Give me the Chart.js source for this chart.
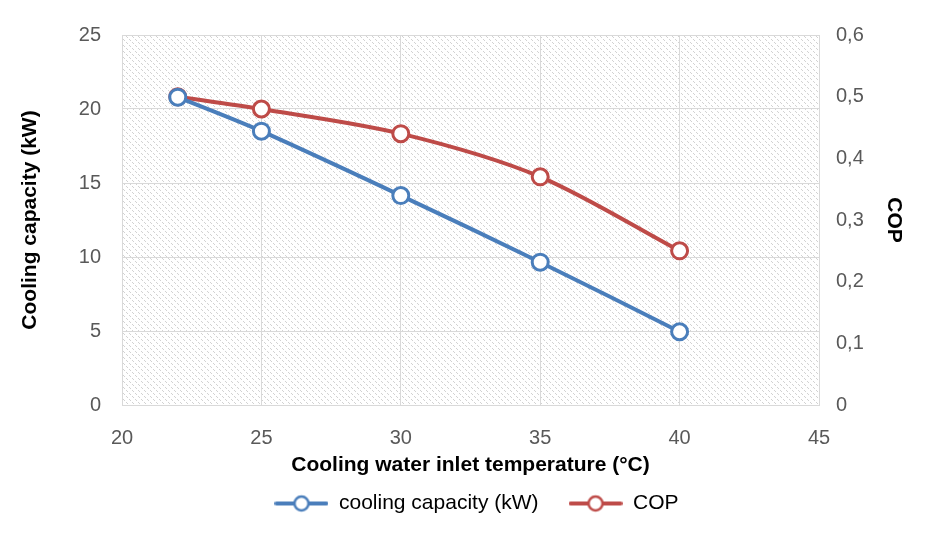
<!DOCTYPE html>
<html>
<head>
<meta charset="utf-8">
<script src="https://cdn.jsdelivr.net/npm/chart.js@4/dist/chart.umd.min.js"></script>
<style>
    html, body { margin: 0; padding: 0; background: #ffffff; }
    #wrap { width: 927px; height: 537px; position: relative; }
</style>
</head>
<body>
<div id="wrap"><canvas id="coolingChart"></canvas></div>
<script>
// Chart data
const inletTemps = [22, 25, 30, 35, 40];
const coolingCapacity = [20.8, 18.5, 14.15, 9.65, 4.95];
const copValues = [0.50, 0.48, 0.44, 0.37, 0.25];
const xTickValues = [20, 25, 30, 35, 40, 45];
const leftTickValues = [0, 5, 10, 15, 20, 25];
const rightTickValues = [0, 0.1, 0.2, 0.3, 0.4, 0.5, 0.6];

const BLUE = '#4a7ebb';
const RED = '#be4b48';
const FONT = "'Liberation Sans', Arial, sans-serif";

// Hatched plot background (light diagonal lines)
function makeHatch() {
    const c = document.createElement('canvas');
    c.width = 6;
    c.height = 6;
    const g = c.getContext('2d');
    g.fillStyle = '#ffffff';
    g.fillRect(0, 0, 6, 6);
    g.fillStyle = '#d2d2d2';
    for (let i = 0; i < 6; i++) {
        if (i % 3 !== 2) g.fillRect(i, i, 1, 1);
    }
    return c;
}

// Legend marker: line with hollow circle in the middle
function legendMarker(color) {
    const c = document.createElement('canvas');
    c.width = 54;
    c.height = 20;
    const g = c.getContext('2d');
    g.strokeStyle = color;
    g.lineWidth = 4;
    g.lineCap = 'round';
    g.beginPath();
    g.moveTo(2, 10);
    g.lineTo(52, 10);
    g.stroke();
    g.beginPath();
    g.arc(27, 10, 7, 0, Math.PI * 2);
    g.fillStyle = '#ffffff';
    g.fill();
    g.lineWidth = 2.5;
    g.stroke();
    return c;
}

const markers = [legendMarker(BLUE), legendMarker(RED)];

const hatchPlugin = {
    id: 'hatchBackground',
    beforeDraw(chart) {
        const a = chart.chartArea;
        const ctx = chart.ctx;
        ctx.save();
        ctx.fillStyle = ctx.createPattern(makeHatch(), 'repeat');
        ctx.fillRect(a.left, a.top, a.right - a.left, a.bottom - a.top);
        ctx.restore();
    }
};

const ctx = document.getElementById('coolingChart').getContext('2d');
const coolingChart = new Chart(ctx, {
    type: 'line',
    data: {
        datasets: [{
            label: 'cooling capacity (kW)',
            data: inletTemps.map((t, i) => ({ x: t, y: coolingCapacity[i] })),
            borderColor: BLUE,
            backgroundColor: '#ffffff',
            borderWidth: 4,
            pointRadius: 8,
            pointBorderWidth: 3,
            pointBackgroundColor: '#ffffff',
            pointBorderColor: BLUE,
            tension: 0.3,
            yAxisID: 'y'
        },
        {
            label: 'COP',
            data: inletTemps.map((t, i) => ({ x: t, y: copValues[i] })),
            borderColor: RED,
            backgroundColor: '#ffffff',
            borderWidth: 4,
            pointRadius: 8,
            pointBorderWidth: 3,
            pointBackgroundColor: '#ffffff',
            pointBorderColor: RED,
            tension: 0.3,
            yAxisID: 'y1'
        }]
    },
    options: {
        responsive: true,
        maintainAspectRatio: false,
        animation: false,
        layout: {
            padding: { top: 35, left: 28, right: 2, bottom: 13 }
        },
        plugins: {
            legend: {
                position: 'bottom',
                labels: {
                    usePointStyle: true,
                    pointStyleWidth: 54,
                    padding: 30,
                    color: '#000000',
                    font: { family: FONT, size: 21 },
                    generateLabels: function(chart) {
                        const items = Chart.defaults.plugins.legend.labels.generateLabels(chart);
                        items.forEach((item, i) => { item.pointStyle = markers[i]; });
                        return items;
                    }
                }
            },
            tooltip: { enabled: false }
        },
        scales: {
            x: {
                type: 'linear',
                min: 20,
                max: 45,
                afterBuildTicks: function(scale) {
                    scale.ticks = xTickValues.map(v => ({ value: v }));
                },
                afterFit: function(scale) { scale.height = 58; },
                grid: { color: '#d9d9d9', lineWidth: 1, drawTicks: false },
                border: { color: '#d9d9d9' },
                ticks: {
                    padding: 21,
                    color: '#595959',
                    font: { family: FONT, size: 20 }
                },
                title: {
                    display: true,
                    text: 'Cooling water inlet temperature (°C)',
                    color: '#000000',
                    padding: { top: 0, bottom: -15 },
                    font: { family: FONT, size: 21, weight: 'bold' }
                }
            },
            y: {
                position: 'left',
                min: 0,
                max: 25,
                afterBuildTicks: function(scale) {
                    scale.ticks = leftTickValues.map(v => ({ value: v }));
                },
                afterFit: function(scale) { scale.width = 94; },
                grid: { color: '#d9d9d9', lineWidth: 1, drawTicks: false },
                border: { color: '#d9d9d9' },
                ticks: {
                    padding: 21,
                    color: '#595959',
                    font: { family: FONT, size: 20 }
                },
                title: {
                    display: true,
                    text: 'Cooling capacity (kW)',
                    color: '#000000',
                    padding: { top: -10, bottom: 0 },
                    font: { family: FONT, size: 21, weight: 'bold' }
                }
            },
            y1: {
                position: 'right',
                min: 0,
                max: 0.6,
                afterBuildTicks: function(scale) {
                    scale.ticks = rightTickValues.map(v => ({ value: v }));
                },
                afterFit: function(scale) { scale.width = 106; },
                grid: { drawOnChartArea: false, drawTicks: false },
                border: { color: '#d9d9d9' },
                ticks: {
                    padding: 17,
                    color: '#595959',
                    font: { family: FONT, size: 20 },
                    callback: function(value) {
                        return value === 0 ? '0' : value.toFixed(1).replace('.', ',');
                    }
                },
                title: {
                    display: true,
                    text: 'COP',
                    color: '#000000',
                    padding: { top: 19, bottom: 0 },
                    font: { family: FONT, size: 21, weight: 'bold' }
                }
            }
        }
    },
    plugins: [hatchPlugin]
});
</script>
</body>
</html>
